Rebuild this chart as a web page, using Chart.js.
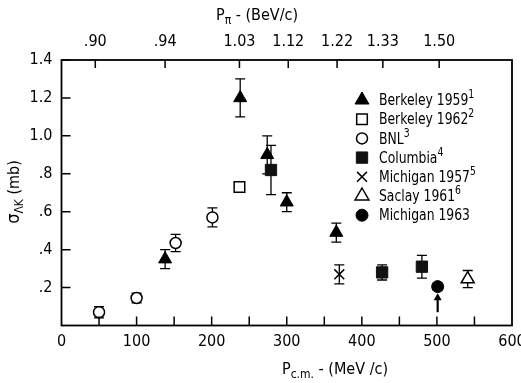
<!DOCTYPE html>
<html>
<head>
<meta charset="utf-8">
<script src="https://cdn.jsdelivr.net/npm/chart.js@4.4.1/dist/chart.umd.min.js"></script>
<style>
html,body{margin:0;padding:0;background:#fff;}
#wrap{width:521px;height:383px;}
</style>
</head>
<body>
<div id="wrap"><canvas id="c" width="521" height="383"></canvas></div>
<script>
// ---- data (p_cm in MeV/c, sigma in mb) ----
const berk59X = [138, 238, 274, 300, 366];
const berk59Y = [0.35, 1.20, 0.90, 0.65, 0.49];
const berk59E = [0.05, 0.10, 0.10, 0.05, 0.05];
const berk62X = [237];
const berk62Y = [0.73];
const berk62E = [0.02];
const bnlX = [50, 100, 152, 201];
const bnlY = [0.07, 0.145, 0.435, 0.57];
const bnlE = [0.03, 0.025, 0.045, 0.05];
const colX = [279, 427, 480];
const colY = [0.82, 0.28, 0.31];
const colE = [0.13, 0.04, 0.06];
const mich57X = [370];
const mich57Y = [0.27];
const mich57E = [0.05];
const saclayX = [541];
const saclayY = [0.245];
const saclayE = [0.045];
const mich63X = [501];
const mich63Y = [0.205];
const mich63E = [0.02];
// top axis: pion lab momentum (BeV/c) at p_cm positions
const topTickPos = [45, 138, 237, 302, 367, 428, 503];
const topTickLabels = ['.90', '.94', '1.03', '1.12', '1.22', '1.33', '1.50'];
const yTicks = [0.2, 0.4, 0.6, 0.8, 1.0, 1.2, 1.4];
const arrowX = 501, arrowFrom = 0.07, arrowTo = 0.17;

const FAM = "'Liberation Sans Narrow','DejaVu Sans Condensed','Liberation Sans',sans-serif";

function pts(xs, ys, es) { return xs.map((x, i) => ({x: x, y: ys[i], e: es[i]})); }

const series = [
  {label: 'Berkeley 1959', sup: '1', legR: 8, data: pts(berk59X, berk59Y, berk59E), pointStyle: 'triangle', pointRadius: 7.5, pointBackgroundColor: '#000', pointBorderColor: '#000', pointBorderWidth: 1},
  {label: 'Berkeley 1962', sup: '2', legR: 7.5, data: pts(berk62X, berk62Y, berk62E), pointStyle: 'rect', pointRadius: 7.5, pointBackgroundColor: '#fff', pointBorderColor: '#000', pointBorderWidth: 1.5},
  {label: 'BNL', sup: '3', legR: 5.5, data: pts(bnlX, bnlY, bnlE), pointStyle: 'circle', pointRadius: 5.5, pointBackgroundColor: '#fff', pointBorderColor: '#000', pointBorderWidth: 1.5},
  {label: 'Columbia', sup: '4', legR: 8, data: pts(colX, colY, colE), pointStyle: 'rect', pointRadius: 8, pointBackgroundColor: '#111', pointBorderColor: '#111', pointBorderWidth: 1},
  {label: 'Michigan 1957', sup: '5', legR: 7, data: pts(mich57X, mich57Y, mich57E), pointStyle: 'crossRot', pointRadius: 7, pointBackgroundColor: '#000', pointBorderColor: '#000', pointBorderWidth: 1.5},
  {label: 'Saclay 1961', sup: '6', legR: 8, data: pts(saclayX, saclayY, saclayE), pointStyle: 'triangle', pointRadius: 7.5, pointBackgroundColor: '#fff', pointBorderColor: '#000', pointBorderWidth: 1.5},
  {label: 'Michigan 1963', sup: '', legR: 6, data: pts(mich63X, mich63Y, mich63E), pointStyle: 'circle', pointRadius: 6, pointBackgroundColor: '#000', pointBorderColor: '#000', pointBorderWidth: 1}
];
series.forEach(s => { s.showLine = false; s.pointHoverRadius = s.pointRadius; });

function setFont(ctx, size) { ctx.font = size + 'px ' + FAM; }
function drawSubText(ctx, x, y, parts, align, hs) {
  hs = hs || 1;
  let total = 0;
  parts.forEach(p => { setFont(ctx, p.size); p.w = ctx.measureText(p.t).width; total += p.w; });
  ctx.save();
  ctx.translate(x, y); ctx.scale(hs, 1);
  let cx = align === 'center' ? -total / 2 : 0;
  parts.forEach(p => { setFont(ctx, p.size); ctx.textAlign = 'left'; ctx.fillText(p.t, cx, (p.dy || 0)); cx += p.w; });
  ctx.restore();
}
function drawMarker(ctx, style, x, y, r, fill, stroke, lw) {
  ctx.save();
  ctx.fillStyle = fill; ctx.strokeStyle = stroke; ctx.lineWidth = lw;
  ctx.beginPath();
  if (style === 'triangle') {
    ctx.moveTo(x, y - r); ctx.lineTo(x + 0.866 * r, y + 0.5 * r); ctx.lineTo(x - 0.866 * r, y + 0.5 * r); ctx.closePath();
    ctx.fill(); ctx.stroke();
  } else if (style === 'rect') {
    const h = 0.7071 * r; ctx.rect(x - h, y - h, 2 * h, 2 * h); ctx.fill(); ctx.stroke();
  } else if (style === 'circle') {
    ctx.arc(x, y, r, 0, Math.PI * 2); ctx.fill(); ctx.stroke();
  } else if (style === 'crossRot') {
    const h = 0.7071 * r;
    ctx.moveTo(x - h, y - h); ctx.lineTo(x + h, y + h); ctx.moveTo(x + h, y - h); ctx.lineTo(x - h, y + h); ctx.stroke();
  }
  ctx.restore();
}

const decor = {
  id: 'decor',
  beforeDatasetsDraw(chart) {
    const ctx = chart.ctx, xs = chart.scales.x, ys = chart.scales.y;
    ctx.save();
    ctx.strokeStyle = '#000'; ctx.lineWidth = 1.3;
    chart.data.datasets.forEach(ds => {
      ds.data.forEach(p => {
        const px = xs.getPixelForValue(p.x);
        const y1 = ys.getPixelForValue(p.y + p.e), y2 = ys.getPixelForValue(p.y - p.e);
        ctx.beginPath();
        ctx.moveTo(px, y1); ctx.lineTo(px, y2);
        ctx.moveTo(px - 5, y1); ctx.lineTo(px + 5, y1);
        ctx.moveTo(px - 5, y2); ctx.lineTo(px + 5, y2);
        ctx.stroke();
      });
    });
    ctx.restore();
  },
  afterDraw(chart) {
    const ctx = chart.ctx, a = chart.chartArea, xs = chart.scales.x, ys = chart.scales.y, xt = chart.scales.x2;
    ctx.save();
    ctx.strokeStyle = '#000'; ctx.lineWidth = 1.8;
    ctx.strokeRect(a.left, a.top, a.right - a.left, a.bottom - a.top);
    ctx.lineWidth = 1.5;
    ctx.beginPath();
    for (let v = 50; v < 600; v += 50) {
      const px = xs.getPixelForValue(v);
      ctx.moveTo(px, a.bottom); ctx.lineTo(px, a.bottom - 9);
    }
    yTicks.forEach(v => {
      const py = ys.getPixelForValue(v);
      ctx.moveTo(a.left, py); ctx.lineTo(a.left + 9, py);
    });
    topTickPos.forEach(v => {
      const px = xt.getPixelForValue(v);
      ctx.moveTo(px, a.top); ctx.lineTo(px, a.top + 8);
    });
    ctx.stroke();
    // arrow
    const ax = xs.getPixelForValue(arrowX), ay1 = ys.getPixelForValue(arrowFrom), ay2 = ys.getPixelForValue(arrowTo);
    ctx.lineWidth = 2.2;
    ctx.beginPath(); ctx.moveTo(ax, ay1); ctx.lineTo(ax, ay2 + 5); ctx.stroke();
    ctx.fillStyle = '#000';
    ctx.beginPath(); ctx.moveTo(ax, ay2); ctx.lineTo(ax - 4, ay2 + 7); ctx.lineTo(ax + 4, ay2 + 7); ctx.closePath(); ctx.fill();
    // titles
    ctx.fillStyle = '#000'; ctx.textBaseline = 'alphabetic';
    drawSubText(ctx, 257, 20, [{t: 'P', size: 16}, {t: 'π', size: 12, dy: 4}, {t: ' - (BeV/c)', size: 16}], 'center');
    drawSubText(ctx, 335, 374, [{t: 'P', size: 16}, {t: 'c.m.', size: 12, dy: 4}, {t: ' - (MeV /c)', size: 16}], 'center');
    ctx.save();
    ctx.translate(19, 192); ctx.rotate(-Math.PI / 2);
    drawSubText(ctx, 0, 0, [{t: 'σ', size: 18}, {t: 'ΛK', size: 12, dy: 4}, {t: ' (mb)', size: 16}], 'center');
    ctx.restore();
    // legend
    const rowY0 = 100, rowH = 19.2, mx = 362, tx = 379;
    chart.data.datasets.forEach((ds, i) => {
      const cy = rowY0 + i * rowH;
      drawMarker(ctx, ds.pointStyle, mx, cy, ds.legR, ds.pointBackgroundColor, ds.pointBorderColor, ds.pointBorderWidth);
      ctx.fillStyle = '#000'; ctx.textBaseline = 'middle';
      const parts = [{t: ds.label, size: 16}];
      if (ds.sup) parts.push({t: ds.sup, size: 12, dy: -6});
      drawSubText(ctx, tx, cy + 1, parts, 'left', 0.86);
    });
    ctx.restore();
  }
};

const tickFont = {family: FAM, size: 16};

new Chart(document.getElementById('c'), {
  type: 'scatter',
  data: {datasets: series},
  options: {
    responsive: false,
    animation: false,
    events: [],
    layout: {padding: {left: 0, right: 9, top: 0, bottom: 0}},
    plugins: {legend: {display: false}, tooltip: {enabled: false}},
    scales: {
      x: {
        type: 'linear', position: 'bottom', min: 0, max: 600,
        ticks: {stepSize: 100, color: '#000', font: tickFont, padding: 7, maxRotation: 0},
        grid: {display: false, drawTicks: false}, border: {display: false},
        afterFit(s) { s.height = 57.5; s.paddingLeft = 0; s.paddingRight = 0; }
      },
      x2: {
        type: 'linear', position: 'top', min: 0, max: 600,
        afterBuildTicks(s) { s.ticks = topTickPos.map(v => ({value: v})); },
        ticks: {color: '#000', font: tickFont, padding: 9, maxRotation: 0, autoSkip: false,
          callback(v, i) { return topTickLabels[i]; }},
        grid: {display: false, drawTicks: false}, border: {display: false},
        afterFit(s) { s.height = 60; s.paddingLeft = 0; s.paddingRight = 0; }
      },
      y: {
        type: 'linear', min: 0, max: 1.4,
        afterBuildTicks(s) { s.ticks = yTicks.map(v => ({value: v})); },
        ticks: {color: '#000', font: tickFont, padding: 9, autoSkip: false,
          callback(v) { const t = v.toFixed(1); return v < 1 ? t.slice(1) : t; }},
        grid: {display: false, drawTicks: false}, border: {display: false},
        afterFit(s) { s.width = 61.5; s.paddingTop = 0; s.paddingBottom = 0; }
      }
    }
  },
  plugins: [decor]
});
</script>
</body>
</html>
